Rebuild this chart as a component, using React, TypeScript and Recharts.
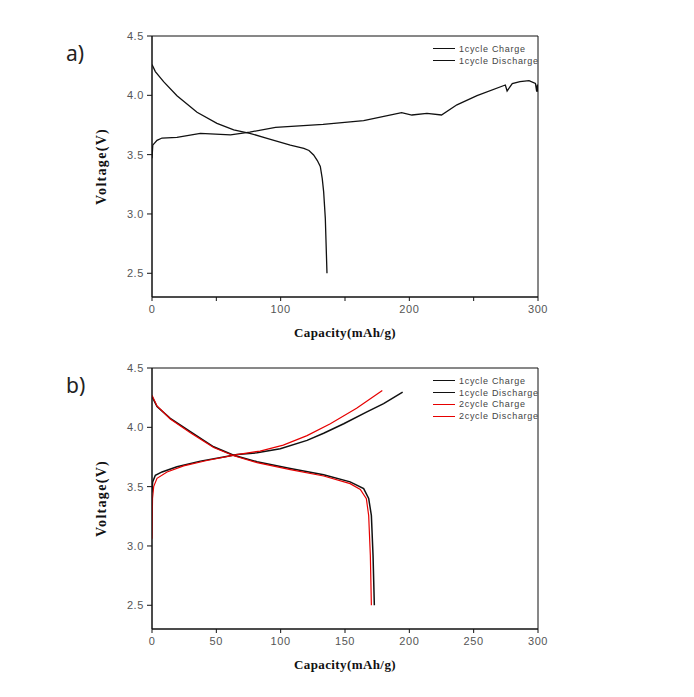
import { LineChart, Line, XAxis, YAxis, ReferenceArea } from 'recharts';

type Pt = { c: number; v: number };

// panel a) — 1st cycle only
const chargeA: Pt[] = [
  { c: 0, v: 3.47 }, { c: 0.6, v: 3.58 }, { c: 3.9, v: 3.62 }, { c: 7.8, v: 3.64 },
  { c: 19.4, v: 3.645 }, { c: 37.6, v: 3.68 }, { c: 61, v: 3.666 }, { c: 76, v: 3.69 },
  { c: 96, v: 3.73 }, { c: 133, v: 3.755 }, { c: 164.5, v: 3.786 }, { c: 194, v: 3.854 },
  { c: 202, v: 3.834 }, { c: 213.7, v: 3.848 }, { c: 225, v: 3.834 }, { c: 237, v: 3.92 },
  { c: 252.6, v: 3.997 }, { c: 274.6, v: 4.087 }, { c: 276, v: 4.037 }, { c: 280, v: 4.098 },
  { c: 286, v: 4.115 }, { c: 293, v: 4.124 }, { c: 298, v: 4.1 }, { c: 299, v: 4.03 },
  { c: 299.5, v: 4.09 }, { c: 300, v: 4.03 },
];
const dischargeA: Pt[] = [
  { c: 0, v: 4.26 }, { c: 2.6, v: 4.2 }, { c: 9, v: 4.115 }, { c: 19.4, v: 3.997 },
  { c: 35, v: 3.857 }, { c: 50.5, v: 3.764 }, { c: 63.5, v: 3.708 }, { c: 76, v: 3.68 },
  { c: 89.4, v: 3.638 }, { c: 107.5, v: 3.58 }, { c: 118, v: 3.553 }, { c: 122, v: 3.535 },
  { c: 125.6, v: 3.497 }, { c: 128.5, v: 3.45 }, { c: 130.8, v: 3.4 }, { c: 132.3, v: 3.3 },
  { c: 133.4, v: 3.188 }, { c: 134.7, v: 2.963 }, { c: 136, v: 2.5 },
];

// panel b) — 1st and 2nd cycle
const charge1B: Pt[] = [
  { c: 0, v: 3.45 }, { c: 0.5, v: 3.54 }, { c: 2.6, v: 3.596 }, { c: 7.8, v: 3.624 },
  { c: 19.4, v: 3.667 }, { c: 37.6, v: 3.715 }, { c: 55.7, v: 3.75 }, { c: 66, v: 3.77 },
  { c: 81.6, v: 3.785 }, { c: 99.7, v: 3.82 }, { c: 120.5, v: 3.89 }, { c: 133.4, v: 3.95 },
  { c: 149, v: 4.03 }, { c: 167, v: 4.13 }, { c: 180, v: 4.2 }, { c: 194.8, v: 4.297 },
];
const discharge1B: Pt[] = [
  { c: 0, v: 4.26 }, { c: 3.9, v: 4.175 }, { c: 14.2, v: 4.076 }, { c: 29.8, v: 3.963 },
  { c: 47.9, v: 3.836 }, { c: 63.5, v: 3.765 }, { c: 81.6, v: 3.71 }, { c: 107.5, v: 3.653 },
  { c: 133.4, v: 3.6 }, { c: 154, v: 3.54 }, { c: 164.5, v: 3.483 }, { c: 168.4, v: 3.4 },
  { c: 170.5, v: 3.257 }, { c: 171.8, v: 2.918 }, { c: 172.8, v: 2.5 },
];
const charge2B: Pt[] = [
  { c: 0, v: 3.06 }, { c: 0.4, v: 3.4 }, { c: 1.3, v: 3.5 }, { c: 3.9, v: 3.57 },
  { c: 11.7, v: 3.624 }, { c: 24.6, v: 3.675 }, { c: 42.7, v: 3.72 }, { c: 66, v: 3.77 },
  { c: 84, v: 3.8 }, { c: 102, v: 3.85 }, { c: 120.5, v: 3.93 }, { c: 138.6, v: 4.03 },
  { c: 159, v: 4.16 }, { c: 179, v: 4.31 },
];
const discharge2B: Pt[] = [
  { c: 0, v: 4.27 }, { c: 3.9, v: 4.18 }, { c: 14.2, v: 4.07 }, { c: 29.8, v: 3.955 },
  { c: 47.9, v: 3.83 }, { c: 63.5, v: 3.76 }, { c: 81.6, v: 3.703 }, { c: 107.5, v: 3.644 },
  { c: 133.4, v: 3.59 }, { c: 154, v: 3.525 }, { c: 161.9, v: 3.477 }, { c: 166.6, v: 3.398 },
  { c: 168.4, v: 3.257 }, { c: 169.7, v: 2.918 }, { c: 170.5, v: 2.5 },
];

const xTicks = [0, 50, 100, 150, 200, 250, 300];
const yTicks = [2.5, 3.0, 3.5, 4.0, 4.5];

type Series = { name: string; data: Pt[]; color: string; width: number };

const seriesA: Series[] = [
  { name: '1cycle Charge', data: chargeA, color: '#111', width: 1.3 },
  { name: '1cycle Discharge', data: dischargeA, color: '#111', width: 1.3 },
];
const seriesB: Series[] = [
  { name: '1cycle Charge', data: charge1B, color: '#111', width: 1.5 },
  { name: '1cycle Discharge', data: discharge1B, color: '#111', width: 1.5 },
  { name: '2cycle Charge', data: charge2B, color: '#e60000', width: 1.2 },
  { name: '2cycle Discharge', data: discharge2B, color: '#e60000', width: 1.2 },
];

const tickStyle = { fill: '#555', fontSize: 11, fontFamily: 'Liberation Sans, Arial', letterSpacing: 0.6 };
const titleStyle = { fill: '#111', fontSize: 13, fontWeight: 700, fontFamily: 'Liberation Serif, Times New Roman', letterSpacing: 0.4 };

const LegendBox = ({ series }: { series: Series[] }) => (
  <div style={{ position: 'absolute', left: 433, top: 43, fontFamily: 'Liberation Sans, Arial', fontSize: 9, letterSpacing: 0.7, color: '#444' }}>
    {series.map((s) => (
      <div key={s.name} style={{ display: 'flex', alignItems: 'center', height: 11.8 }}>
        <div style={{ width: 22, height: 0, borderTop: `${s.width}px solid ${s.color}`, marginRight: 4 }} />
        <span>{s.name}</span>
      </div>
    ))}
  </div>
);

const Panel = ({ series, label, top, xLabels }: { series: Series[]; label: string; top: number; xLabels: number[] }) => (
  <div style={{ position: 'absolute', left: 0, top, width: 694, height: 345 }}>
    <LineChart width={694} height={345} margin={{ top: 36, right: 156, bottom: 3, left: 90 }}>
      <XAxis
        type="number"
        dataKey="c"
        domain={[0, 300]}
        ticks={xTicks}
        allowDataOverflow
        height={45}
        tickSize={4}
        tickMargin={4}
        tick={tickStyle}
        tickFormatter={(t: number) => (xLabels.includes(t) ? String(t) : '')}
        stroke="#111"
        label={{ value: 'Capacity(mAh/g)', position: 'insideBottom', offset: 5, style: titleStyle }}
      />
      <YAxis
        type="number"
        domain={[2.3, 4.5]}
        ticks={yTicks}
        allowDataOverflow
        width={62}
        tickSize={5}
        tickMargin={3}
        tick={tickStyle}
        tickFormatter={(t: number) => t.toFixed(1)}
        stroke="#111"
        label={{ value: 'Voltage(V)', angle: -90, position: 'insideLeft', offset: 11, style: { ...titleStyle, fontSize: 14, textAnchor: 'middle', letterSpacing: 1.3 } }}
      />
      <ReferenceArea x1={0} x2={300} y1={2.3} y2={4.5} fill="none" stroke="#111" strokeWidth={1} ifOverflow="visible" />
      {series.map((s) => (
        <Line
          key={s.name}
          data={s.data}
          dataKey="v"
          name={s.name}
          type="linear"
          stroke={s.color}
          strokeWidth={s.width}
          dot={false}
          activeDot={false}
          isAnimationActive={false}
        />
      ))}
    </LineChart>
    <LegendBox series={series} />
    <div style={{ position: 'absolute', left: 66, top: 39, fontSize: 21, fontFamily: 'Noto Sans, sans-serif', color: '#222' }}>
      {label}
    </div>
  </div>
);

export default function App() {
  return (
    <div style={{ position: 'absolute', left: 0, top: 0, width: 694, height: 697, background: '#fff' }}>
      <Panel series={seriesA} label="a)" top={0} xLabels={[0, 100, 200, 300]} />
      <Panel series={seriesB} label="b)" top={332} xLabels={xTicks} />
    </div>
  );
}
